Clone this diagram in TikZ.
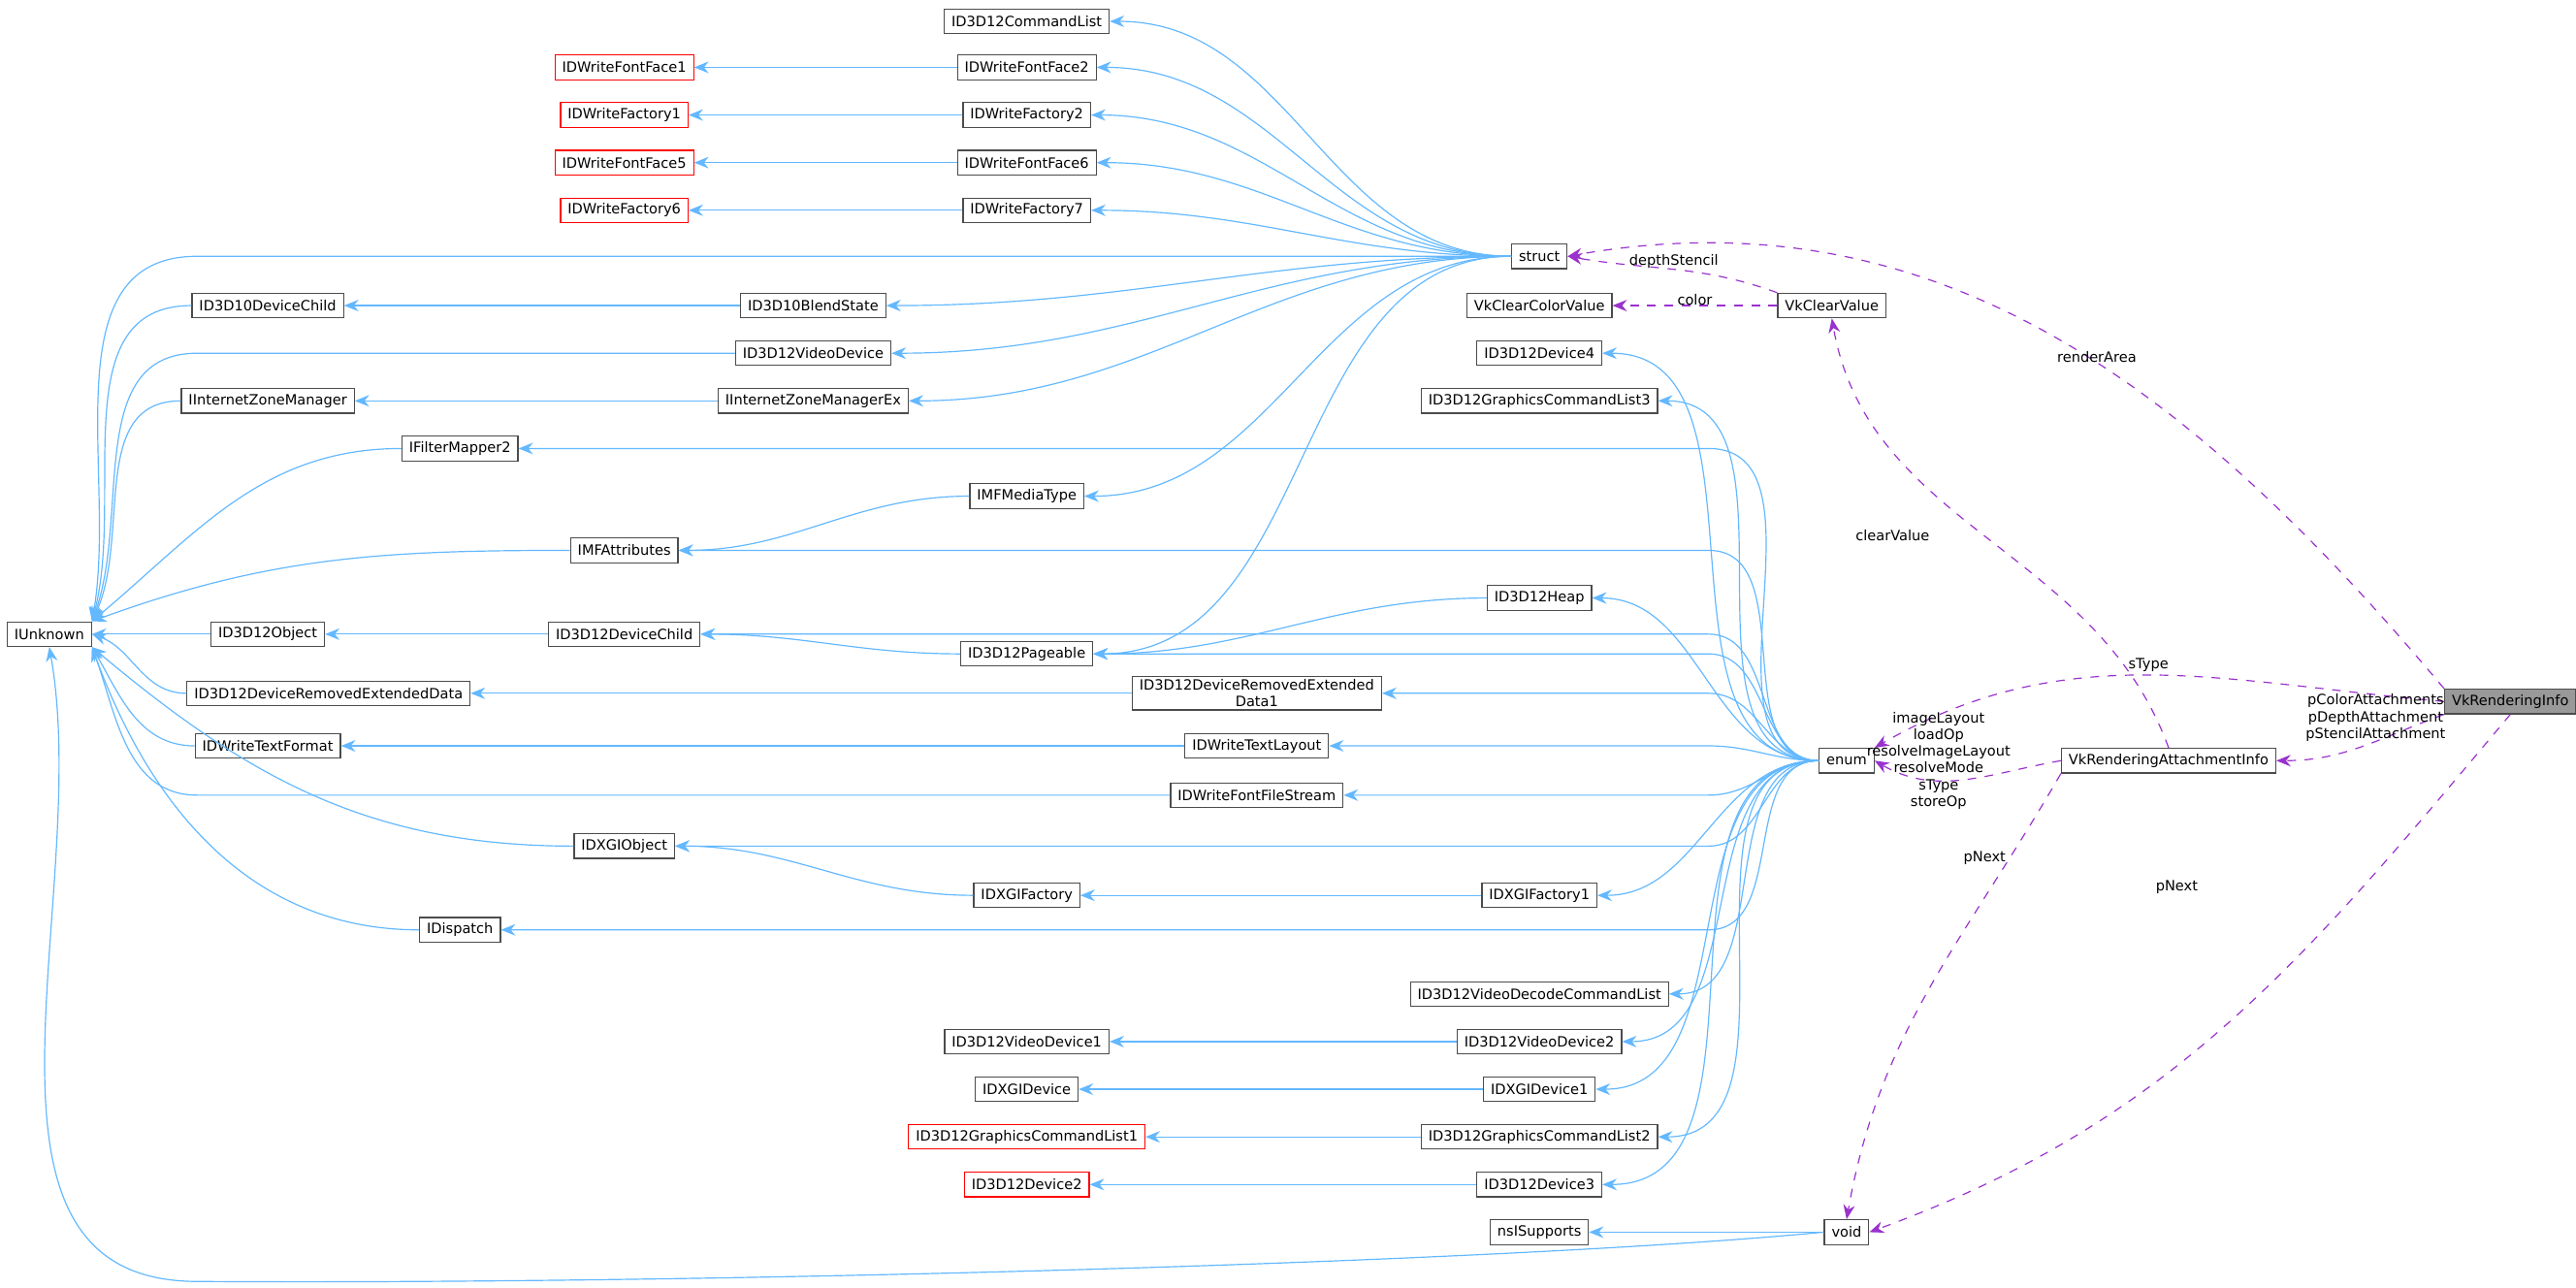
\documentclass[tikz,border=0pt]{standalone}
\usepackage{fontspec}
\setmainfont{DejaVu Sans}
\usetikzlibrary{arrows.meta}
\definecolor{inh}{HTML}{63B8FF}
\definecolor{usg}{HTML}{9A32CD}
\tikzset{
  cls/.style={draw=black!70, fill=white, font=\fontsize{4.9}{5.8}\selectfont, inner xsep=2.5pt, inner ysep=1pt, minimum height=0.3cm, align=center},
  ext/.style={cls, draw=red},
  cur/.style={cls, fill=black!40},
  isa/.style={draw=inh, -{Stealth[length=5pt,width=4pt]}},
  use/.style={draw=usg, dashed, -{Stealth[length=5pt,width=4pt]}},
  lbl/.style={font=\fontsize{4.9}{5.8}\selectfont, align=center, inner sep=0pt}
}
\begin{document}
\begin{tikzpicture}[x=0.02cm, y=-0.02cm]
\useasboundingbox (0,0) rectangle (1568,784);
% right side
\node[cur] (ri) at (1528,427) {VkRenderingInfo};
\node[cls] (rai) at (1320,463) {VkRenderingAttachmentInfo};
\node[cls] (en) at (1124,463) {enum};
\node[cls] (vd) at (1124,750) {void};
\node[cls] (st) at (937,156) {struct};
\node[cls] (cv) at (1115,186) {VkClearValue};
\node[cls] (ccv) at (937,186) {VkClearColorValue};
% column 937
\node[cls] (d4) at (937,215) {ID3D12Device4};
\node[cls] (gcl3) at (937,244) {ID3D12GraphicsCommandList3};
\node[cls] (hp) at (937,364) {ID3D12Heap};
\node[cls] (xf1) at (937,545) {IDXGIFactory1};
\node[cls] (vdcl) at (937,605) {ID3D12VideoDecodeCommandList};
\node[cls] (vd2) at (937,634) {ID3D12VideoDevice2};
\node[cls] (xd1) at (937,663) {IDXGIDevice1};
\node[cls] (gcl2) at (937,692) {ID3D12GraphicsCommandList2};
\node[cls] (d3) at (937,721) {ID3D12Device3};
\node[cls] (nss) at (937,750) {nsISupports};
% column 765
\node[cls] (dred1) at (765,422) {ID3D12DeviceRemovedExtended\\Data1};
\node[cls] (tl) at (765,454) {IDWriteTextLayout};
\node[cls] (ffs) at (765,484) {IDWriteFontFileStream};
% column 625
\node[cls] (cl) at (625,13) {ID3D12CommandList};
\node[cls] (ff2) at (625,41) {IDWriteFontFace2};
\node[cls] (fa2) at (625,70) {IDWriteFactory2};
\node[cls] (ff6) at (625,99) {IDWriteFontFace6};
\node[cls] (fa7) at (625,128) {IDWriteFactory7};
\node[cls] (mt) at (625,302) {IMFMediaType};
\node[cls] (pg) at (625,398) {ID3D12Pageable};
\node[cls] (xf) at (625,545) {IDXGIFactory};
\node[cls] (vd1) at (625,634) {ID3D12VideoDevice1};
\node[cls] (xd) at (625,663) {IDXGIDevice};
\node[ext] (gcl1) at (625,692) {ID3D12GraphicsCommandList1};
\node[ext] (d2) at (625,721) {ID3D12Device2};
% column 495
\node[cls] (bs) at (495,186) {ID3D10BlendState};
\node[cls] (vdev) at (495,215) {ID3D12VideoDevice};
\node[cls] (izmx) at (495,244) {IInternetZoneManagerEx};
% column 380
\node[ext] (ff1) at (380,41) {IDWriteFontFace1};
\node[ext] (fa1) at (380,70) {IDWriteFactory1};
\node[ext] (ff5) at (380,99) {IDWriteFontFace5};
\node[ext] (fa6) at (380,128) {IDWriteFactory6};
\node[cls] (ma) at (380,335) {IMFAttributes};
\node[cls] (dc) at (380,386) {ID3D12DeviceChild};
\node[cls] (xo) at (380,515) {IDXGIObject};
% column 280
\node[cls] (fm2) at (280,273) {IFilterMapper2};
\node[cls] (dsp) at (280,566) {IDispatch};
% column 163
\node[cls] (d10c) at (163,186) {ID3D10DeviceChild};
\node[cls] (izm) at (163,244) {IInternetZoneManager};
\node[cls] (obj) at (163,386) {ID3D12Object};
\node[cls] (dred) at (200,422) {ID3D12DeviceRemovedExtendedData};
\node[cls] (tf) at (163,454) {IDWriteTextFormat};
\node[cls] (iu) at (30,386) {IUnknown};
\coordinate (bend) at (120,0);
\coordinate (enb) at (1040,0);
\coordinate (low) at (0,780);

% inheritance
\foreach \a/\b in {st/cl,st/ff2,st/fa2,st/ff6,st/fa7,st/bs,st/vdev,st/izmx,st/mt,st/pg,
  ff2/ff1,fa2/fa1,ff6/ff5,fa7/fa6,bs/d10c,izmx/izm,mt/ma,dc/obj,pg/dc,hp/pg,dred1/dred,
  tl/tf,xf/xo,xf1/xf,vd2/vd1,xd1/xd,gcl2/gcl1,d3/d2,vd/nss,
  en/d4,en/gcl3,en/hp,en/xf1,en/vdcl,en/vd2,en/xd1,en/gcl2,en/d3}
  \draw[isa] (\a.west) to[out=180,in=0] (\b.east);
% from enum: bend near enum, then straight run
\foreach \b in {fm2,ma,dc,pg,dred1,tl,ffs,xo,dsp}
  \draw[isa] (en.west) to[out=180,in=0] (\b.east -| enb) -- (\b.east);
% into IUnknown: straight run, then bend in
\foreach \a/\ang in {st/80,vdev/70}
  \draw[isa] (\a.west) -- (\a.west -| bend) to[out=180,in=\ang] (iu.north east);
\foreach \a/\ang in {d10c/75,izm/65,fm2/40,ma/20}
  \draw[isa] (\a.west) to[out=180,in=\ang] (iu.north east);
\foreach \a/\ang in {tf/-60,xo/-40,dsp/-70}
  \draw[isa] (\a.west) to[out=180,in=\ang] (iu.south east);
\draw[isa] (ffs.west) -- (ffs.west -| bend) to[out=180,in=-70] (iu.south east);
\draw[isa] (obj.west) -- (iu.east);
\draw[isa] (dred.west) to[out=180,in=-20] (iu.east);
\draw[isa] (vd.west) .. controls (900,770) and (400,782) .. (low -| bend) to[out=180,in=-80] (iu.south);

% usage
\draw[use] (ri.north west) to[out=130,in=10] node[lbl, pos=0.45, above] {renderArea} (st.east);
\draw[use] (cv.north west) to[out=160,in=-10] node[lbl, pos=0.5, above] {depthStencil} (st.east);
\draw[use] (cv.west) -- node[lbl, above] {color} (ccv.east);
\draw[use] (rai.north) to[out=110,in=-80] (cv.south);
\node[lbl] at (1152,326) {clearValue};
\draw[use] (ri.west) to[out=175,in=30] node[lbl, pos=0.5, above=1pt] {sType} (en.north east);
\draw[use] (rai.west) to[out=190,in=-30] (en.east);
\node[lbl] at (1180,463) {imageLayout\\loadOp\\resolveImageLayout\\resolveMode\\sType\\storeOp};
\draw[use] (ri.south west) to[out=200,in=0] (rai.east);
\node[lbl] at (1446,437) {pColorAttachments\\pDepthAttachment\\pStencilAttachment};
\draw[use] (rai.south west) to[out=240,in=80] (vd.north);
\node[lbl] at (1208,522) {pNext};
\draw[use] (ri.south) to[out=230,in=20] (vd.east);
\node[lbl] at (1325,540) {pNext};
\end{tikzpicture}
\end{document}
